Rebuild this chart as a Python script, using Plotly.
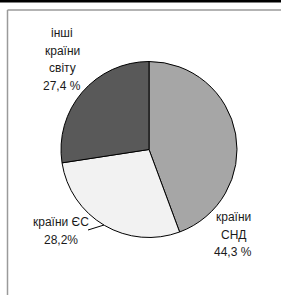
import plotly.graph_objects as go

labels = ["країни СНД", "країни ЄС", "інші країни світу"]
values = [44.3, 28.2, 27.4]
colors = ["#A6A6A6", "#F2F2F2", "#595959"]
label_lines = [["країни", "СНД", "44,3 %"], ["країни ЄС", "28,2%"], ["інші", "країни", "світу", "27,4 %"]]

W, H = 281, 295
cx, cy, r = 149, 149.5, 88

fig = go.Figure(go.Pie(
    labels=labels, values=values, sort=False, direction="clockwise", rotation=0,
    marker=dict(colors=colors, line=dict(color="#000000", width=1)),
    textinfo="none", hoverinfo="label+percent", showlegend=False,
    domain=dict(x=[(cx - r) / W, (cx + r) / W], y=[(H - cy - r) / H, (H - cy + r) / H]),
))

font = dict(family="Liberation Sans Narrow, Arial Narrow, Liberation Sans, Arial", size=12, color="#1A1A1A")
# (center x, first-line y) in pixels, line step
ann_pos = [(233, 217), (61, 222), (62, 33)]
step = 17.7
for lines, (x, y0) in zip(label_lines, ann_pos):
    for i, txt in enumerate(lines):
        fig.add_annotation(x=x / W, y=1 - (y0 + i * step) / H, xref="paper", yref="paper", text=txt,
                           showarrow=False, font=font, align="center", xanchor="center", yanchor="middle")

shapes = [
    dict(type="rect", xref="paper", yref="paper", x0=0, x1=1, y0=1 - 2.5 / H, y1=1,
         fillcolor="#000000", line=dict(width=0)),
    dict(type="line", xref="paper", yref="paper", x0=7.5 / W, x1=1, y0=1 - 10 / H, y1=1 - 10 / H,
         line=dict(color="#9A9A9A", width=1.5)),
    dict(type="line", xref="paper", yref="paper", x0=7.5 / W, x1=7.5 / W, y0=0, y1=1 - 10 / H,
         line=dict(color="#9A9A9A", width=1.5)),
    dict(type="line", xref="paper", yref="paper", x0=88 / W, x1=104 / W, y0=1 - 230 / H, y1=1 - 225 / H,
         line=dict(color="#000000", width=1)),
]
fig.update_layout(width=W, height=H, margin=dict(l=0, r=0, t=0, b=0),
                  paper_bgcolor="#FFFFFF", plot_bgcolor="#FFFFFF", shapes=shapes)
fig.write_html("out.html", config={"displayModeBar": False},
               post_script="document.body.style.margin='0';")
